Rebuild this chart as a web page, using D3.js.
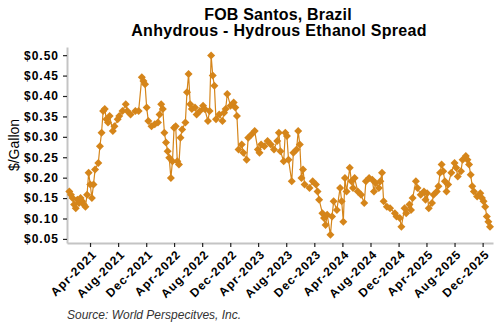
<!DOCTYPE html>
<html>
<head>
<meta charset="utf-8">
<script src="https://cdn.jsdelivr.net/npm/d3@7"></script>
<style>
  body { margin: 0; background: #fff; }
  svg { display: block; }
</style>
</head>
<body>
<svg id="chart" width="500" height="330"></svg>
<script>
// Weekly FOB Santos anhydrous minus hydrous ethanol spread, $/gallon
const weekDates = [
  "2021-01-01","2021-01-08","2021-01-15","2021-01-22","2021-01-29","2021-02-05","2021-02-12","2021-02-19","2021-02-26",
  "2021-03-05","2021-03-12","2021-03-19","2021-03-26","2021-04-02","2021-04-09","2021-04-16","2021-04-23","2021-05-07",
  "2021-05-14","2021-05-21","2021-05-28","2021-06-04","2021-06-11","2021-06-18","2021-06-25","2021-07-09","2021-07-16",
  "2021-07-30","2021-08-06","2021-08-20","2021-09-03","2021-09-10","2021-09-24","2021-10-15","2021-10-29","2021-11-12",
  "2021-11-19","2021-11-26","2021-12-03","2021-12-10","2021-12-24",
  "2022-01-07","2022-01-21","2022-01-28","2022-02-04","2022-02-11","2022-02-18","2022-02-25","2022-03-04","2022-03-11",
  "2022-03-18","2022-03-25","2022-04-01","2022-04-08","2022-04-15","2022-04-22","2022-04-29","2022-05-06","2022-05-20",
  "2022-05-27","2022-06-03","2022-06-10","2022-06-17","2022-07-01","2022-07-08","2022-07-22","2022-08-05","2022-08-12",
  "2022-08-26","2022-09-02","2022-09-09","2022-09-16","2022-09-23","2022-09-30","2022-10-14","2022-10-28","2022-11-04",
  "2022-11-11","2022-11-18","2022-12-02","2022-12-16","2022-12-23","2022-12-30",
  "2023-01-06","2023-01-20","2023-01-27","2023-02-10","2023-02-17","2023-03-03","2023-03-17","2023-03-31","2023-04-07",
  "2023-04-14","2023-04-28","2023-05-12","2023-05-26","2023-06-09","2023-06-23","2023-06-30","2023-07-07","2023-07-21",
  "2023-07-28","2023-08-04","2023-08-11","2023-08-25","2023-09-01","2023-09-15","2023-09-22","2023-09-29","2023-10-06",
  "2023-10-13","2023-10-20","2023-11-10","2023-11-24","2023-12-08","2023-12-15","2023-12-22",
  "2024-01-05","2024-01-12","2024-01-19","2024-01-26","2024-02-09","2024-02-16","2024-02-23","2024-03-08","2024-03-22",
  "2024-03-29","2024-04-05","2024-04-12","2024-04-19","2024-05-03","2024-05-10","2024-05-17","2024-05-24","2024-06-07",
  "2024-06-21","2024-07-05","2024-07-12","2024-07-26","2024-08-09","2024-08-16","2024-08-23","2024-09-06","2024-09-13",
  "2024-09-20","2024-09-27","2024-10-11","2024-10-25","2024-11-15","2024-11-22","2024-12-06","2024-12-13","2024-12-27",
  "2025-01-03","2025-01-17","2025-01-24","2025-01-31","2025-02-14","2025-02-21","2025-03-07","2025-03-21","2025-03-28",
  "2025-04-04","2025-04-11","2025-04-25","2025-05-02","2025-05-16","2025-05-23","2025-05-30","2025-06-06","2025-06-13",
  "2025-06-20","2025-06-27","2025-07-04","2025-07-18","2025-08-01","2025-08-08","2025-08-15","2025-08-29","2025-09-05",
  "2025-09-19","2025-09-26","2025-10-03","2025-10-10","2025-10-17","2025-10-24","2025-11-07","2025-11-21","2025-11-28",
  "2025-12-05","2025-12-12","2025-12-19","2025-12-26","2026-01-02"
];

const spreadValues = [
  0.166,0.158,0.150,0.134,0.125,0.146,0.138,0.150,0.142,
  0.134,0.129,0.158,0.212,0.183,0.150,0.183,0.220,0.236,
  0.277,0.310,0.363,0.368,0.343,0.335,0.351,0.314,0.326,
  0.343,0.351,0.363,0.380,0.363,0.355,0.363,0.363,0.446,
  0.437,0.429,0.372,0.339,0.326,
  0.331,0.335,0.355,0.380,0.368,0.310,0.286,0.265,0.249,
  0.199,0.240,0.322,0.326,0.240,0.232,0.298,0.318,0.335,
  0.409,0.454,0.380,0.368,0.372,0.355,0.363,0.376,0.368,
  0.339,0.363,0.499,0.450,0.425,0.343,0.355,0.339,0.359,
  0.368,0.405,0.376,0.384,0.372,0.351,
  0.269,0.281,0.261,0.244,0.298,0.306,0.314,0.269,0.261,
  0.281,0.277,0.290,0.281,0.269,0.290,0.310,0.265,0.240,
  0.310,0.302,0.244,0.191,0.261,0.269,0.314,0.281,0.199,
  0.220,0.183,0.175,0.191,0.183,0.166,0.146,
  0.113,0.101,0.084,0.109,0.060,0.105,0.142,0.121,0.175,
  0.142,0.092,0.199,0.166,0.224,0.191,0.175,0.199,0.166,
  0.158,0.138,0.191,0.199,0.195,0.166,0.187,0.175,0.191,
  0.212,0.142,0.129,0.125,0.113,0.105,0.101,0.080,0.125,
  0.113,0.134,0.121,0.150,0.191,0.175,0.158,0.166,0.146,
  0.162,0.125,0.138,0.158,0.166,0.179,0.212,0.232,0.216,
  0.191,0.166,0.183,0.212,0.236,0.224,0.203,0.216,0.244,
  0.253,0.244,0.232,0.207,0.179,0.166,0.154,0.162,0.150,
  0.142,0.129,0.105,0.092,0.080
];

const yTickValues = [0.05, 0.10, 0.15, 0.20, 0.25, 0.30, 0.35, 0.40, 0.45, 0.50];
const xTickLabels = ["Apr-2021","Aug-2021","Dec-2021","Apr-2022","Aug-2022","Dec-2022","Apr-2023",
                     "Aug-2023","Dec-2023","Apr-2024","Aug-2024","Dec-2024","Apr-2025","Aug-2025","Dec-2025"];

const seriesColor = "#D5851A";
const axisColor = "#c4c4c4";
const fontFamily = "'Liberation Sans', Arial, sans-serif";

const parseDay = d3.timeParse("%Y-%m-%d");
const parseTick = d3.timeParse("%b-%Y");

const data = weekDates.map((d, i) => ({ date: parseDay(d), value: spreadValues[i] }));

const svg = d3.select("#chart");

const x = d3.scaleTime()
  .domain([parseDay("2020-12-22"), parseDay("2026-01-15")])
  .range([67, 493]);

const y = d3.scaleLinear()
  .domain([0.04, 0.52])
  .range([243, 47]);

// Titles
svg.append("text")
  .attr("x", 278).attr("y", 20)
  .attr("text-anchor", "middle")
  .style("font", `bold 16px ${fontFamily}`)
  .style("letter-spacing", "0.2px")
  .text("FOB Santos, Brazil");

svg.append("text")
  .attr("x", 279).attr("y", 36)
  .attr("text-anchor", "middle")
  .style("font", `bold 16px ${fontFamily}`)
  .style("letter-spacing", "0.3px")
  .text("Anhydrous - Hydrous Ethanol Spread");

// Y axis
const yAxis = svg.append("g")
  .attr("transform", "translate(67,0)")
  .call(d3.axisLeft(y)
    .tickValues(yTickValues)
    .tickFormat(d => "$" + d.toFixed(2))
    .tickSize(4)
    .tickSizeOuter(0)
    .tickPadding(4));

// X axis
const xAxis = svg.append("g")
  .attr("transform", "translate(0,243)")
  .call(d3.axisBottom(x)
    .tickValues(xTickLabels.map(parseTick))
    .tickFormat((d, i) => xTickLabels[i])
    .tickSize(4)
    .tickSizeOuter(0));

[yAxis, xAxis].forEach(g => {
  g.select(".domain").attr("stroke", axisColor).attr("stroke-width", 2);
  g.selectAll(".tick line").attr("stroke", "#222").attr("stroke-width", 1.2);
  g.selectAll(".tick text")
    .attr("fill", "#000")
    .style("font", `bold 12px ${fontFamily}`)
    .style("letter-spacing", "1px");
});

xAxis.selectAll(".tick text")
  .attr("y", 0)
  .attr("dy", "0.35em")
  .attr("text-anchor", "end")
  .attr("transform", "translate(4,9) rotate(-45)");

// Y axis title
svg.append("text")
  .attr("transform", "translate(19,145) rotate(-90)")
  .attr("text-anchor", "middle")
  .style("font", `14px ${fontFamily}`)
  .text("$/Gallon");

// Series line and diamond markers
const line = d3.line()
  .x(d => x(d.date))
  .y(d => y(d.value));

svg.append("path")
  .datum(data)
  .attr("fill", "none")
  .attr("stroke", seriesColor)
  .attr("stroke-width", 1.2)
  .attr("d", line);

const diamond = d3.symbol().type(d3.symbolSquare).size(32);

svg.append("g")
  .selectAll("path")
  .data(data)
  .join("path")
  .attr("d", diamond)
  .attr("fill", seriesColor)
  .attr("transform", d => `translate(${x(d.date)},${y(d.value)}) rotate(45)`);

// Source note
svg.append("text")
  .attr("x", 67).attr("y", 319)
  .style("font", `italic 12px ${fontFamily}`)
  .attr("fill", "#333")
  .text("Source: World Perspecitves, Inc.");
</script>
</body>
</html>
